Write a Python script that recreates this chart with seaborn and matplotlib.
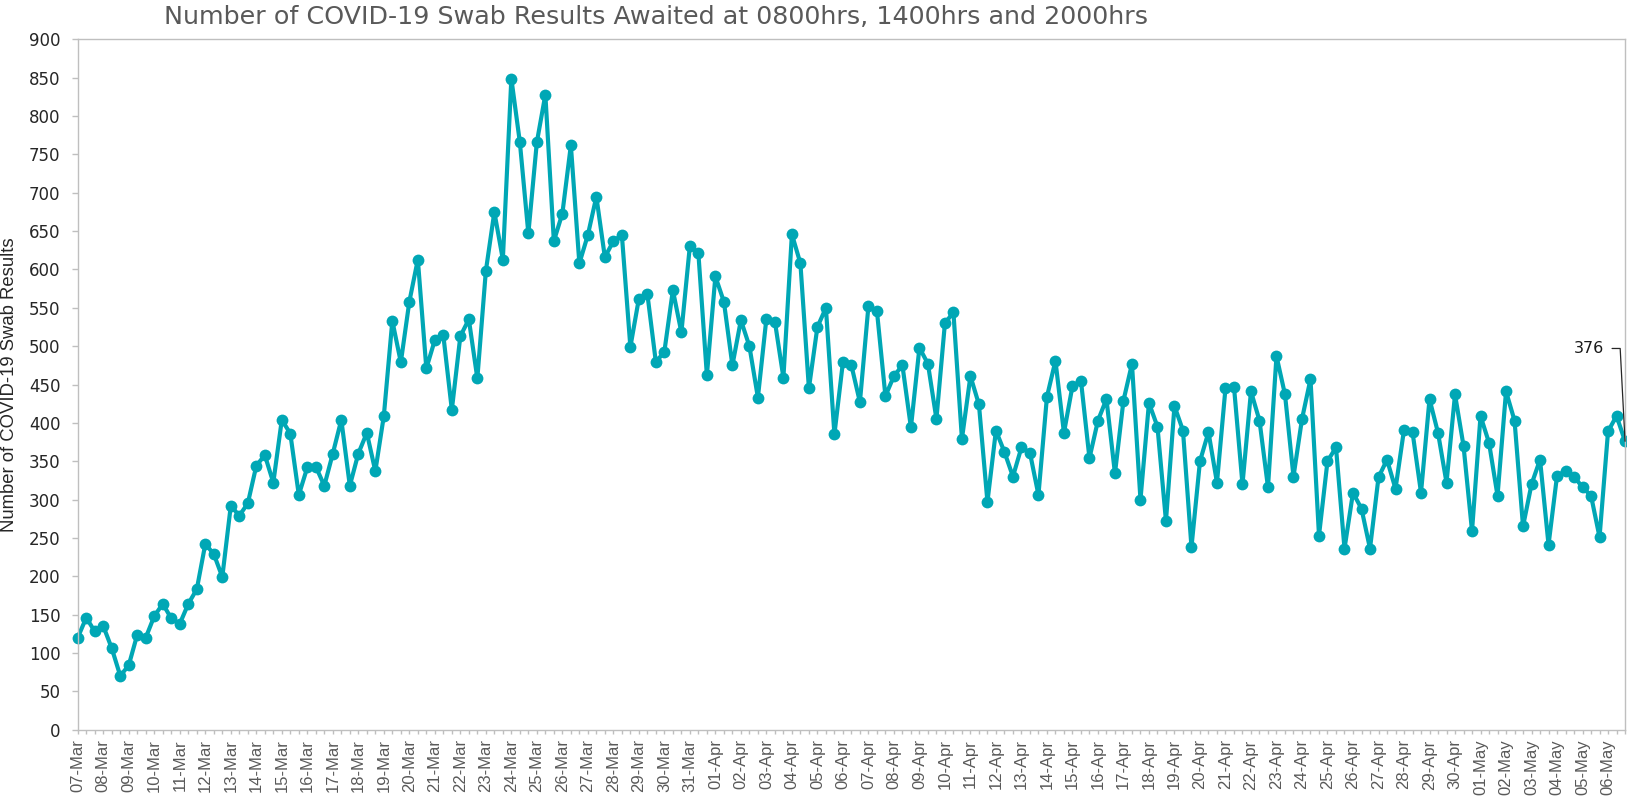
import pandas as pd
import seaborn as sns
import matplotlib.pyplot as plt

# one label per day, three readings per day (0800, 1400, 2000)
days = pd.date_range("2020-03-07", "2020-05-06").strftime("%d-%b").tolist()
slots = ["0800", "1400", "2000"]

awaited = [
    120, 146, 128, 135, 106, 70, 84, 124, 120, 148,
    164, 145, 138, 164, 183, 242, 229, 199, 292, 279,
    295, 344, 358, 322, 404, 386, 306, 342, 343, 318,
    360, 404, 318, 360, 387, 337, 409, 533, 479, 558,
    613, 471, 508, 514, 417, 513, 535, 458, 598, 675,
    613, 849, 766, 647, 766, 828, 637, 673, 762, 608,
    645, 695, 616, 637, 645, 499, 562, 568, 479, 493,
    573, 518, 631, 621, 462, 591, 558, 475, 534, 500,
    433, 536, 532, 459, 646, 608, 445, 525, 550, 385,
    479, 475, 427, 552, 546, 435, 461, 475, 394, 498,
    477, 405, 530, 544, 379, 461, 424, 297, 390, 362,
    330, 368, 361, 306, 434, 481, 387, 448, 455, 354,
    403, 431, 334, 429, 477, 300, 426, 395, 272, 422,
    390, 238, 350, 388, 322, 445, 447, 320, 441, 403,
    316, 487, 437, 330, 405, 457, 253, 350, 368, 236,
    309, 288, 236, 329, 352, 314, 391, 388, 309, 431,
    387, 322, 437, 370, 259, 409, 374, 305, 441, 403,
    265, 320, 352, 241, 331, 337, 330, 316, 305, 251,
    389, 409, 376,
]

df = pd.DataFrame({"value": awaited})
df["pos"] = range(len(df))
df["day"] = [days[i // 3] for i in df["pos"]]

teal = "#00A7B5"
grey_txt = "#595959"
dark_txt = "#262626"
border = "#BFBFBF"

sns.set_style("white")
plt.rcParams["font.family"] = ["DejaVu Sans"]

fig = plt.figure(figsize=(16.27, 8.0), dpi=100)
ax = fig.add_axes([0.0478, 0.088, 0.9510, 0.8627])

sns.lineplot(data=df, x="pos", y="value", ax=ax, color=teal, linewidth=3.0,
             marker="o", markersize=8.5, markeredgewidth=0, clip_on=False)

ax.set_xlim(0, len(df) - 1)
ax.set_ylim(0, 900)
ax.set_yticks(range(0, 901, 50))
ax.tick_params(axis="y", labelsize=12, labelcolor=dark_txt, left=True,
               length=4, color=border, width=1, pad=8.5)

ax.set_xticks(df["pos"])
ax.set_xticklabels([d if p % 3 == 0 else "" for p, d in zip(df["pos"], df["day"])],
                   rotation=90, color=grey_txt, fontsize=12, family="Liberation Sans")
ax.tick_params(axis="x", bottom=True, length=3, color=border, width=1, pad=4)

for side in ["top", "right", "left", "bottom"]:
    ax.spines[side].set_color(border)
    ax.spines[side].set_linewidth(1)

ax.set_xlabel("")
ax.set_ylabel("Number of COVID-19 Swab Results", fontsize=13.3, color=dark_txt,
              family="Liberation Sans")
ax.yaxis.set_label_coords(-0.0386, 0.5)

fig.text(0.403, 0.979, "Number of COVID-19 Swab Results Awaited at 0800hrs, 1400hrs and 2000hrs",
         ha="center", va="center", fontsize=18.3, color=grey_txt)

# data label on the last reading, with an elbow leader line
last = len(df) - 1
ax.annotate(str(awaited[-1]), xy=(last, awaited[-1]), xytext=(last - 2.5, 497),
            ha="right", va="center", fontsize=11.5, color="#1a1a1a",
            arrowprops=dict(arrowstyle="-", color="#262626", lw=0.9,
                            relpos=(1, 0.5), shrinkA=3.6, shrinkB=0,
                            connectionstyle="angle,angleA=0,angleB=93,rad=0"))

fig.savefig("out.png", dpi=100)
